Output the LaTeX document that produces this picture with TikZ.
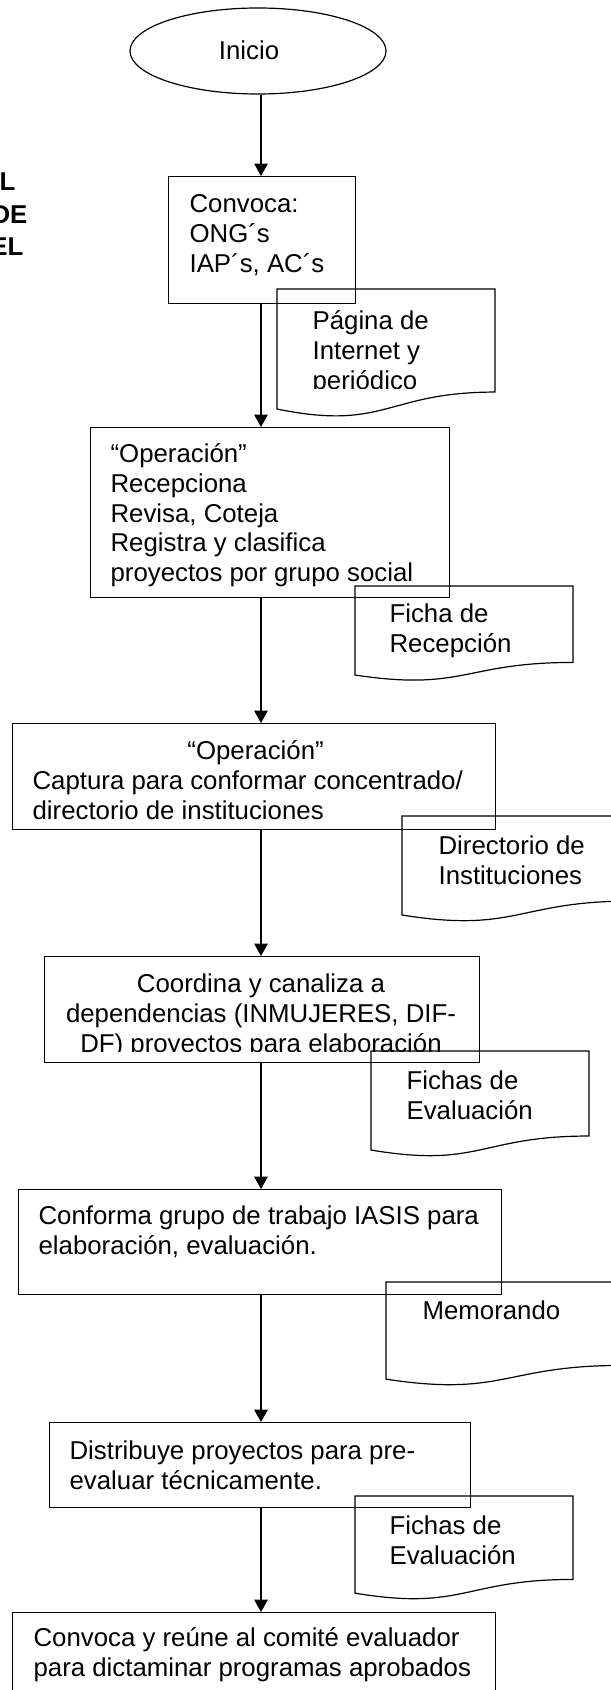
\documentclass[tikz,border=0pt]{standalone}
\usepackage{fontspec}
\setmainfont{Liberation Sans}
\usetikzlibrary{shapes.geometric,arrows.meta}

\begin{document}
\begin{tikzpicture}
        [x=0.5pt,y=-0.5pt,line width=0.6pt,
        every node/.style={font=\fontsize{12.9}{14.85}\selectfont,inner sep=0pt},
        proc/.style={draw,rectangle,anchor=north west},
        txt/.style={anchor=north west,align=left},
        flecha/.style={-{Triangle[length=6.2pt,width=6.8pt]}}]
        \useasboundingbox (0,0) rectangle (610,1690);

        \node[anchor=east,font=\fontsize{12.9}{14.85}\selectfont\bfseries] (ttla) at (16,182) {L};
        \node[anchor=east,font=\fontsize{12.9}{14.85}\selectfont\bfseries] (ttlb) at (28,215) {DE};
        \node[anchor=east,font=\fontsize{12.9}{14.85}\selectfont\bfseries] (ttlc) at (24,247) {EL};

        \node[draw,ellipse,minimum width=128pt,minimum height=43pt] (inicio) at (258,51) {};
        \node (tinicio) at (249,50) {Inicio};

        \node[proc,minimum width=93.5pt,minimum height=63.5pt] (convoca) at (168,176) {};
        \node[txt] (tconvoca) at (189,191.4) {\strut Convoca:\\ONG´s\\IAP´s, AC´s};

        \node[proc,minimum width=179.5pt,minimum height=85pt] (recepciona) at (90,427) {};
        \node[txt] (trecepciona) at (110,441.4)
        {\strut “Operación”\\Recepciona\\Revisa, Coteja\\Registra y clasifica\\proyectos por grupo social};

        \node[proc,minimum width=241.5pt,minimum height=53pt] (captura) at (12,723) {};
        \node[txt] (tcaptura) at (32,738.4)
        {\strut\makebox[223pt]{“Operación”}\\Captura para conformar concentrado/\\directorio de instituciones};

        \node[proc,minimum width=217.5pt,minimum height=53pt] (coordina) at (44,956) {};
        \begin{scope}
        \clip (44,956) rectangle (479,1051);
        \node[anchor=north,align=center] (tcoordina) at (261,971.4)
        {\strut Coordina y canaliza a\\dependencias (INMUJERES, DIF-\\DF) proyectos para elaboración};
        \end{scope}

        \node[proc,minimum width=241.75pt,minimum height=52.5pt] (conforma) at (17.5,1189) {};
        \node[txt] (tconforma) at (38,1203.4) {\strut Conforma grupo de trabajo IASIS para\\elaboración, evaluación.};

        \node[proc,minimum width=210.5pt,minimum height=42.5pt] (distribuye) at (49,1422) {};
        \node[txt] (tdistribuye) at (69,1438.4) {\strut Distribuye proyectos para pre-\\evaluar técnicamente.};

        \node[proc,minimum width=241.5pt,minimum height=60pt] (reune) at (12,1612) {};
        \node[txt] (treune) at (33,1625.4) {\strut Convoca y reúne al comité evaluador\\para dictaminar programas aprobados};

        \foreach \x/\y/\w/\h in {277/289/218/128.5,355/586/218/95.3,402/816/230/106,
                371/1051/218/106,386/1282/236/104,355/1496/218/104}
        {\draw ({\x},{\y+0.934*\h}) -- ({\x},{\y}) -- ({\x+\w},{\y}) -- ({\x+\w},{\y+0.802*\h})
                .. controls ({\x+0.5*\w},{\y+0.802*\h}) and ({\x+0.5*\w},{\y+1.1075*\h}) .. ({\x},{\y+0.934*\h}) -- cycle;}

        \begin{scope}
        \clip (277,289) rectangle (495,388);
        \node[txt] (dpagina) at (312,308.4) {\strut Página de\\Internet y\\periódico};
        \end{scope}
        \node[txt] (dficha) at (389,601.4) {\strut Ficha de\\Recepción};
        \node[txt] (ddirectorio) at (438,833.4) {\strut Directorio de\\Instituciones};
        \node[txt] (dfichas) at (406,1068.4) {\strut Fichas de\\Evaluación};
        \node[txt] (dmemo) at (422,1298.4) {\strut Memorando};
        \node[txt] (dfichasb) at (389,1513.4) {\strut Fichas de\\Evaluación};

        \coordinate (eje) at (261,0);
        \draw[flecha] (eje |- inicio.south) -- (eje |- convoca.north);
        \draw[flecha] (eje |- convoca.south) -- (eje |- recepciona.north);
        \draw[flecha] (eje |- recepciona.south) -- (eje |- captura.north);
        \draw[flecha] (eje |- captura.south) -- (eje |- coordina.north);
        \draw[flecha] (eje |- coordina.south) -- (eje |- conforma.north);
        \draw[flecha] (eje |- conforma.south) -- (eje |- distribuye.north);
        \draw[flecha] (eje |- distribuye.south) -- (eje |- reune.north);
      \end{tikzpicture}
\end{document}
